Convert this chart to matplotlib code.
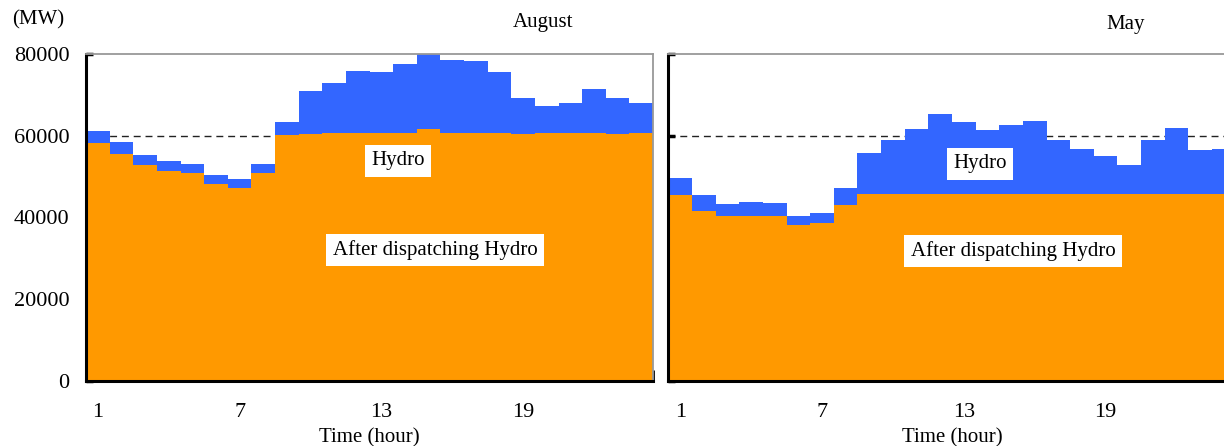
import matplotlib
matplotlib.use("Agg")
import matplotlib.pyplot as plt
import numpy as np

plt.rcParams['font.family'] = ['Liberation Serif', 'DejaVu Serif']
plt.rcParams['font.size'] = 15

hours = list(range(1, 25))

# August: load after hydro (orange) and total load (top of blue)
aug_after = [58240, 55460, 52840, 51370, 50880, 48180, 47200, 50880,
             60120, 60450, 60700, 60700, 60700, 60700, 61600, 60700,
             60700, 60700, 60450, 60700, 60700, 60700, 60450, 60700]
aug_total = [61030, 58400, 55210, 53740, 53010, 50390, 49330, 53010,
             63310, 71000, 72880, 75830, 75580, 77550, 80000, 78530,
             78280, 75660, 69200, 67240, 67980, 71410, 69200, 67980]

# May
may_after = [45400, 41470, 40250, 40250, 40250, 38040, 38530, 42940,
             45640, 45700, 45700, 45700, 45700, 45700, 45700, 45700,
             45700, 45700, 45700, 45700, 45700, 45700, 45700, 45700]
may_total = [49570, 45400, 43190, 43680, 43440, 40250, 40980, 47120,
             55790, 58900, 61600, 65280, 63310, 61350, 62580, 63560,
             58900, 56690, 54970, 52840, 58900, 61840, 56440, 56690]

xtick_labels = [1, 7, 13, 19]
ref_level = 60000

ORANGE = '#FF9900'
BLUE = '#3366FF'

fig = plt.figure(figsize=(12.24, 4.46), dpi=100)
W, H = 1224, 446
ax1 = fig.add_axes([86 / W, 1 - 380.5 / H, 567 / W, 326.5 / H])
ax2 = fig.add_axes([668.5 / W, 1 - 380.5 / H, 567 / W, 326.5 / H])


def draw_panel(ax, after, total, hydro_xy, after_xy, show_ylabels):
    hydro = np.array(total) - np.array(after)
    ax.axhline(ref_level, color='#222222', lw=1.0, ls=(0, (5, 3.5)), zorder=1)
    ax.bar(hours, after, width=1.0, color=ORANGE, linewidth=0, zorder=2)
    ax.bar(hours, hydro, bottom=after, width=1.0, color=BLUE, linewidth=0, zorder=2)
    ax.set_xlim(0.5, 24.5)
    ax.set_ylim(0, 80000)

    ax.set_xticks(xtick_labels)
    ax.set_xticklabels([str(v) for v in xtick_labels])
    ax.set_xticks(np.arange(0.5, 25, 2), minor=True)
    ax.tick_params(axis='x', which='major', length=0, pad=16, labelsize=16)
    ax.tick_params(axis='x', which='minor', direction='in', length=8, width=2,
                   color='black')
    ax.set_yticks(range(0, 80001, 20000))
    ax.tick_params(axis='y', direction='in', length=5, width=2.5, color='black',
                   pad=12, labelleft=show_ylabels, labelsize=16)
    ax.set_xlabel('Time (hour)', labelpad=4.5)

    for side in ['left', 'bottom']:
        ax.spines[side].set_color('black')
        ax.spines[side].set_linewidth(2.2)
    for side in ['top', 'right']:
        ax.spines[side].set_color('#999999')
        ax.spines[side].set_linewidth(1.3)

    box = dict(boxstyle='square,pad=0.3', facecolor='white', edgecolor='none')
    ax.text(*hydro_xy, 'Hydro', ha='center', va='center', bbox=box, zorder=5)
    ax.text(*after_xy, 'After dispatching Hydro', ha='center', va='center',
            bbox=box, zorder=5)


draw_panel(ax1, aug_after, aug_total, (13.7, 53800), (15.27, 32000), True)
draw_panel(ax2, may_after, may_total, (13.7, 53100), (15.08, 31800), False)

fig.text(12 / W, 1 - 20 / H, '(MW)', ha='left', va='center')
fig.text(543 / W, 1 - 22 / H, 'August', ha='center', va='center')
fig.text(1126 / W, 1 - 25 / H, 'May', ha='center', va='center')

fig.savefig('out.png', dpi=100)
